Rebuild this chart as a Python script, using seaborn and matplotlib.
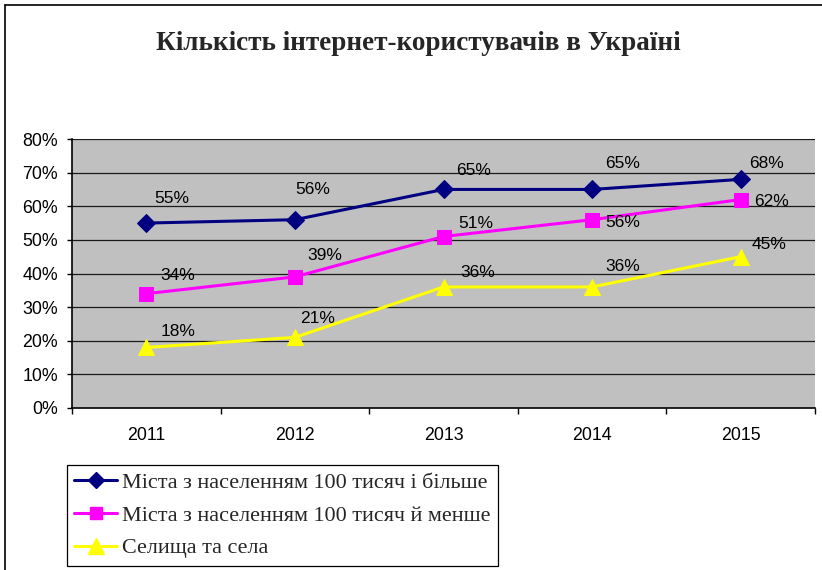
import numpy as np
import pandas as pd
import matplotlib
matplotlib.use("Agg")
import matplotlib.pyplot as plt
from matplotlib.lines import Line2D
from matplotlib.ticker import FixedLocator, PercentFormatter
import seaborn as sns

# ---- data ----
years = ["2011", "2012", "2013", "2014", "2015"]
series_names = [
    "Міста з населенням 100 тисяч і більше",
    "Міста з населенням 100 тисяч й менше",
    "Селища та села",
]
big_cities = [0.55, 0.56, 0.65, 0.65, 0.68]
small_cities = [0.34, 0.39, 0.51, 0.56, 0.62]
villages = [0.18, 0.21, 0.36, 0.36, 0.45]
title = "Кількість інтернет-користувачів в Україні"

# ---- styles ----
colors = ["#000080", "#FF00FF", "#FFFF00"]
markers = ["D", "s", "^"]
msizes = [9, 10, 12]
# label offsets (pixels): left edge of text dx, vertical centre dy (down positive)
label_offsets = [
    [(8, -25), (0, -30), (13, -19), (13, -26), (8, -16)],
    [(14, -18), (12, -21), (15, -13), (13, 3), (13, 2)],
    [(14, -16), (5, -19), (17, -14), (13, -20), (11, -12)],
]

W, H, DPI = 822, 570, 100
sns.set_theme(style="white")
plt.rcParams["font.family"] = ["Liberation Sans", "DejaVu Sans"]

fig = plt.figure(figsize=(W / DPI, H / DPI), dpi=DPI)
fig.patch.set_facecolor("white")

left, right, top, bottom = 72, 815, 139, 408
ax = fig.add_axes([left / W, 1 - bottom / H, (right - left) / W, (bottom - top) / H])
ax.set_facecolor("#C0C0C0")

x_pos = np.arange(len(years))
df = pd.DataFrame({
    "x": np.tile(x_pos, 3),
    "value": big_cities + small_cities + villages,
    "series": np.repeat(series_names, len(years)),
})

# gridlines
for v in np.arange(0.1, 0.81, 0.1):
    ax.axhline(v, color="#1a1a1a", lw=0.9, zorder=1)

for i, name in enumerate(series_names):
    sub = df[df["series"] == name]
    sns.lineplot(data=sub, x="x", y="value", ax=ax, color=colors[i],
                 marker=markers[i], markersize=msizes[i], markeredgecolor=colors[i],
                 linewidth=2.2, label=name, zorder=3, legend=False)

vals_all = [big_cities, small_cities, villages]
px2pt = 72 / DPI
for i, vals in enumerate(vals_all):
    for j, v in enumerate(vals):
        dx, dy = label_offsets[i][j]
        ax.annotate(f"{round(v * 100)}%", (x_pos[j], v),
                    xytext=(dx * px2pt, -dy * px2pt), textcoords="offset points",
                    ha="left", va="center", fontsize=12.5, color="black", zorder=4)

ax.set_xlim(-0.5, len(years) - 0.5)
ax.set_ylim(0, 0.8)
ax.set_xlabel("")
ax.set_ylabel("")

ax.yaxis.set_major_locator(FixedLocator(np.arange(0, 0.81, 0.1)))
ax.yaxis.set_major_formatter(PercentFormatter(1.0, decimals=0))
ax.tick_params(axis="y", which="major", left=True, length=5 * px2pt, width=1,
               color="black", pad=9 * px2pt, labelsize=12.8, labelcolor="black")

ax.xaxis.set_major_locator(FixedLocator(np.arange(-0.5, len(years), 1.0)))
ax.xaxis.set_minor_locator(FixedLocator(x_pos))
ax.set_xticklabels([""] * (len(years) + 1))
ax.set_xticklabels(years, minor=True)
ax.tick_params(axis="x", which="major", bottom=True, length=6 * px2pt, width=1,
               color="black")
ax.tick_params(axis="x", which="minor", bottom=False, length=0, pad=19 * px2pt,
               labelsize=12.8, labelcolor="black")

for s in ["top", "right"]:
    ax.spines[s].set_visible(False)
for s in ["left", "bottom"]:
    ax.spines[s].set_visible(True)
    ax.spines[s].set_color("black")
    ax.spines[s].set_linewidth(1.2)

# title
fig.text(418 / W, 1 - 43 / H, title, ha="center", va="center",
         fontsize=19.5, fontweight="bold", family=["Liberation Serif", "DejaVu Serif"])

# legend
handles = [Line2D([0], [0], color=colors[i], marker=markers[i], markersize=msizes[i] - 1,
                  markeredgecolor=colors[i], linewidth=2.2) for i in range(3)]
leg = fig.legend(handles, series_names, loc="upper left",
                 bbox_to_anchor=(67 / W, 1 - 465 / H),
                 frameon=True, fancybox=False, edgecolor="black", framealpha=1,
                 prop={"family": ["Liberation Serif", "DejaVu Serif"], "size": 15.9},
                 handlelength=1.95, handletextpad=0.22, labelspacing=0.56,
                 borderpad=0.33, borderaxespad=0)
leg.get_frame().set_linewidth(0.9)

# chart border (left & top visible)
fig.add_artist(Line2D([5 / W, 5 / W], [0, 1 - 5 / H], color="black", lw=1.2,
                      transform=fig.transFigure))
fig.add_artist(Line2D([5 / W, 1], [1 - 5 / H, 1 - 5 / H], color="black", lw=1.2,
                      transform=fig.transFigure))

fig.savefig("out.png", dpi=DPI)
